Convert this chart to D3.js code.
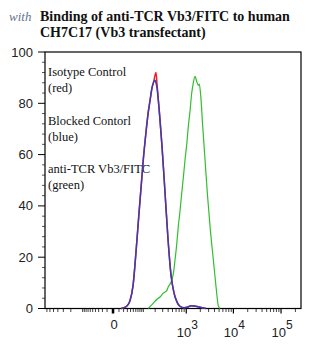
<!DOCTYPE html>
<html>
<head>
<meta charset="utf-8">
<script src="https://cdn.jsdelivr.net/npm/d3@7"></script>
<style>
  html, body { margin: 0; padding: 0; background: #fff; }
  svg { display: block; }
</style>
</head>
<body>
<svg id="chart" width="325" height="354"></svg>
<script>
// Histogram overlays: fluorescence intensity vs % of max
const titleLines = ["Binding of anti-TCR Vb3/FITC to human", "CH7C17 (Vb3 transfectant)"];
const legendLines = [
  ["Isotype Control", "(red)"],
  ["Blocked Contorl", "(blue)"],
  ["anti-TCR Vb3/FITC", "(green)"]
];
const yTicks = [0, 20, 40, 60, 80, 100];
const xMajorTicks = [0, 1e3, 1e4, 1e5];
const xMajorLabels = ["0", "3", "4", "5"];

// Isotype control (red)
const isoX = [14, 24, 32, 38, 49, 61, 75, 86, 98, 118, 133, 149, 167, 187, 198, 209, 221, 247, 290, 340, 397, 464, 541, 630, 732, 895, 1092, 1267, 1469, 1788, 2175, 2645];
const isoY = [0, 0.5, 1.5, 3, 9, 22, 37, 47, 57, 69, 76, 81, 86, 89, 91, 92, 87.5, 78, 63, 45, 27, 13, 6, 2.5, 0.8, 0.3, 0.6, 1.1, 1, 0.7, 0.3, 0];
// Blocked control (blue)
const blkX = [14, 24, 32, 38, 49, 61, 75, 86, 98, 118, 133, 149, 167, 187, 198, 209, 221, 247, 290, 340, 397, 464, 541, 630, 732, 895, 1092, 1267, 1469, 1788, 2175, 2645];
const blkY = [0, 0.5, 1.5, 3, 9, 22, 37, 47, 57, 69, 76, 81, 86, 88.5, 89, 88, 86, 78, 63, 45, 27, 13, 6, 2.5, 0.8, 0.3, 0.6, 1.1, 1, 0.7, 0.3, 0];
// anti-TCR Vb3/FITC (green)
const fitcX = [135, 167, 217, 260, 310, 371, 403, 440, 481, 527, 569, 620, 672, 732, 798, 864, 941, 1024, 1108, 1205, 1311, 1419, 1543, 1677, 1815, 1906, 2041, 2251, 2519, 2819, 3216, 3776, 4306, 4816, 5229];
const fitcY = [0, 1.5, 3.5, 4.5, 6, 7, 8.5, 9.5, 11, 14, 19, 25, 32, 38, 45, 51, 58, 64, 71, 77, 84, 88, 90.5, 88.5, 87, 87.5, 83, 71, 58, 45, 32, 19, 8.5, 1, 0];

const svg = d3.select("#chart");
const plot = { left: 45, right: 301, top: 52, bottom: 308.5 };

const x = d3.scaleSymlog().constant(30).domain([-770, 262144]).range([plot.left, plot.right]);
const y = d3.scaleLinear().domain([0, 100]).range([plot.bottom, plot.top]);

// Title
const title = svg.append("g").attr("font-family", "'Liberation Serif', 'Times New Roman', serif")
  .attr("font-weight", "bold").attr("font-size", 14).attr("fill", "#111");
title.append("text").attr("x", 40).attr("y", 21).text(titleLines[0]);
title.append("text").attr("x", 40).attr("y", 37).text(titleLines[1]);
svg.append("text").attr("x", 9).attr("y", 21)
  .attr("font-family", "'Liberation Serif', serif").attr("font-style", "italic")
  .attr("font-size", 13).attr("fill", "#4a5a80").attr("opacity", 0.85).text("with");

// Y axis
const yMinor = d3.range(0, 101, 4).filter(v => v % 20 !== 0);
const yAxis = svg.append("g").attr("transform", `translate(${plot.left},0)`);
yAxis.selectAll("line.maj").data(yTicks).join("line")
  .attr("x1", -7).attr("x2", 0).attr("y1", d => y(d)).attr("y2", d => y(d))
  .attr("stroke", "#000").attr("stroke-width", 1);
yAxis.selectAll("line.min").data(yMinor).join("line")
  .attr("x1", -3).attr("x2", 0).attr("y1", d => y(d)).attr("y2", d => y(d))
  .attr("stroke", "#555").attr("stroke-width", 1);
yAxis.selectAll("text").data(yTicks).join("text")
  .attr("x", -12).attr("y", d => y(d) + 4.5).attr("text-anchor", "end")
  .attr("font-family", "'Liberation Sans', Arial, sans-serif").attr("font-size", 13)
  .attr("fill", "#222").text(d => d);

// X axis (biexponential-style ticks)
const xMinor = [];
for (let p = 1; p <= 5; p++) {
  for (let m = 1; m <= 9; m++) {
    const v = m * Math.pow(10, p);
    if (v < 262144 && !xMajorTicks.includes(v)) xMinor.push(v);
    if (-v > -770 && p <= 2) xMinor.push(-v);
  }
}
const xAxis = svg.append("g").attr("transform", `translate(0,${plot.bottom})`);
xAxis.append("line").attr("x1", plot.left - 7).attr("x2", plot.right)
  .attr("stroke", "#000").attr("stroke-width", 1.2);
xAxis.selectAll("line.min").data(xMinor).join("line")
  .attr("x1", d => x(d)).attr("x2", d => x(d)).attr("y1", 0).attr("y2", 3.5)
  .attr("stroke", "#444").attr("stroke-width", 1);
xAxis.selectAll("line.maj").data(xMajorTicks).join("line")
  .attr("x1", d => x(d)).attr("x2", d => x(d)).attr("y1", 0).attr("y2", 5)
  .attr("stroke", "#000").attr("stroke-width", d => d === 0 ? 2.5 : 1.2);
const xl = svg.append("g").attr("font-family", "'Liberation Sans', Arial, sans-serif").attr("fill", "#222");
xMajorTicks.forEach((v, i) => {
  if (v === 0) {
    xl.append("text").attr("x", x(v) + 1).attr("y", 329).attr("text-anchor", "middle")
      .attr("font-size", 13).text(xMajorLabels[i]);
  } else {
    const t = xl.append("text").attr("x", x(v) + 1).attr("y", 337).attr("text-anchor", "middle").attr("font-size", 13);
    t.append("tspan").text("10");
    t.append("tspan").attr("dy", -8).attr("font-size", 12).text(xMajorLabels[i]);
  }
});

// Plot frame
svg.append("rect").attr("x", plot.left).attr("y", plot.top)
  .attr("width", plot.right - plot.left).attr("height", plot.bottom - plot.top)
  .attr("fill", "none").attr("stroke", "#000").attr("stroke-width", 1.2);

// Legend text
const lg = svg.append("g").attr("font-family", "'Liberation Serif', 'Times New Roman', serif")
  .attr("font-size", 12.5).attr("fill", "#111");
legendLines.forEach((pair, i) => {
  lg.append("text").attr("x", 48).attr("y", 76 + i * 48.5).text(pair[0]);
  lg.append("text").attr("x", 48).attr("y", 92 + i * 48.5).text(pair[1]);
});

// Histogram curves
const line = d3.line().x(d => x(d[0])).y(d => y(d[1])).curve(d3.curveMonotoneX);
const zip = (a, b) => a.map((v, i) => [v, b[i]]);
const series = [
  { data: zip(fitcX, fitcY), color: "#2fbf2f", w: 1.2 },
  { data: zip(isoX, isoY), color: "#e8202a", w: 1.5 },
  { data: zip(blkX, blkY), color: "#3a3cb0", w: 1.5 }
];
svg.append("g").selectAll("path").data(series).join("path")
  .attr("d", d => line(d.data)).attr("fill", "none")
  .attr("stroke", d => d.color).attr("stroke-width", d => d.w);
</script>
</body>
</html>
